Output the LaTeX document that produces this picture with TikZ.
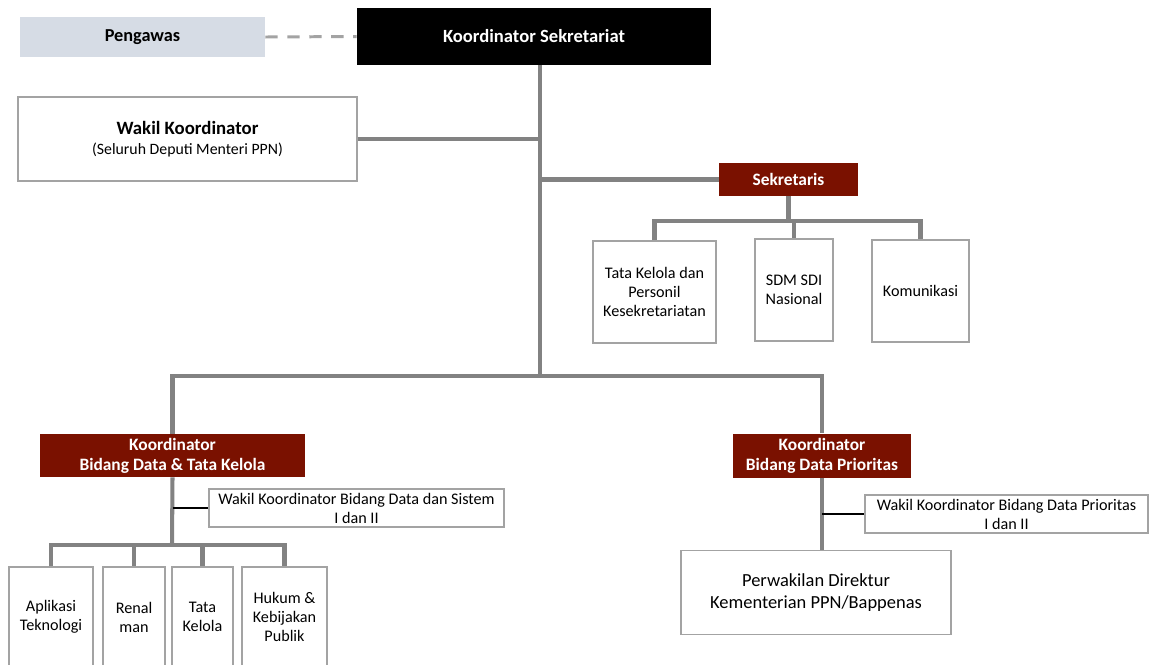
\documentclass[tikz,border=0pt]{standalone}
\usepackage{fontspec}
\setmainfont{Carlito}
\definecolor{darkred}{HTML}{7A1100}
\definecolor{linegray}{HTML}{828282}
\definecolor{framegray}{HTML}{A3A3A3}
\definecolor{paleblue}{HTML}{D6DCE5}
\tikzset{
  head/.style={fill=darkred, text=white, font=\fontsize{9.9}{11.3}\selectfont\bfseries, align=center, inner sep=0pt},
  unit/.style={draw=framegray, line width=0.7pt, fill=white, align=center, inner sep=0pt, font=\fontsize{9.2}{10.8}\selectfont},
  trunk/.style={draw=linegray, line width=2.3pt},
  link/.style={draw=black, line width=1.1pt}
}
\begin{document}
\begin{tikzpicture}[x=0.02cm, y=-0.02cm]
  \clip (0,0) rectangle (1149,664);
  \fill[white] (0,0) rectangle (1149,664);

  % Top level
  \coordinate (hub) at (540,376);
  \node[fill=paleblue, minimum width=4.9cm, minimum height=0.8cm, font=\fontsize{10.4}{12}\selectfont\bfseries] (peng) at (142.5,37) {Pengawas};
  \node[fill=black, text=white, minimum width=7.08cm, minimum height=1.14cm, font=\fontsize{10.6}{12}\selectfont\bfseries] (koord) at (534,36.5) {Koordinator Sekretariat};
  \node[unit, minimum width=6.78cm, minimum height=1.68cm, font=\fontsize{9}{11.3}\selectfont] (wakil) at (187.5,139)
    {{\fontsize{10.7}{11.3}\selectfont\bfseries Wakil Koordinator}\\(Seluruh Deputi Menteri PPN)};

  % Sekretaris
  \coordinate (sbar) at (790,221);
  \node[head, minimum width=2.78cm, minimum height=0.66cm] (sekr) at (788.5,179.5) {Sekretaris};
  \node[unit, minimum width=2.46cm, minimum height=2.04cm] (tata) at (654.5,292) {Tata Kelola dan\\Personil\\Kesekretariatan};
  \node[unit, minimum width=1.56cm, minimum height=2.04cm] (sdm) at (794,290) {SDM SDI\\Nasional};
  \node[unit, minimum width=1.94cm, minimum height=2.04cm] (komu) at (920.5,291) {Komunikasi};

  % Bidang Data & Tata Kelola
  \coordinate (dbar) at (172,545);
  \node[head, minimum width=5.3cm, minimum height=0.86cm] (bdtk) at (172.5,455.5) {Koordinator\\Bidang Data \& Tata Kelola};
  \node[unit, minimum width=5.9cm, minimum height=0.76cm] (wbds) at (356.5,508) {Wakil Koordinator Bidang Data dan Sistem\\I dan II};
  \node[unit, minimum width=1.68cm, minimum height=2cm] (apl) at (51,617) {Aplikasi\\Teknologi};
  \node[unit, minimum width=1.24cm, minimum height=2cm] (renal) at (134,617) {Renal\\man};
  \node[unit, minimum width=1.22cm, minimum height=2cm] (tk) at (202.5,617) {Tata\\Kelola};
  \node[unit, minimum width=1.7cm, minimum height=2cm] (hukum) at (284.5,617) {Hukum \&\\Kebijakan\\Publik};

  % Bidang Data Prioritas
  \node[head, minimum width=3.56cm, minimum height=0.88cm] (bdp) at (822,455.5) {Koordinator\\Bidang Data Prioritas};
  \node[unit, minimum width=5.66cm, minimum height=0.76cm] (wbdp) at (1006.5,514) {Wakil Koordinator Bidang Data Prioritas\\I dan II};
  \node[unit, minimum width=5.4cm, minimum height=1.68cm, font=\fontsize{10.5}{12.5}\selectfont] (perw) at (816,592.5) {Perwakilan Direktur\\Kementerian PPN/Bappenas};

  % Connectors
  \draw[draw=framegray, line width=1.7pt, dash pattern=on 7pt off 5.5pt] (peng.east) -- (koord.west);
  \draw[trunk] (koord.south -| hub) -- (hub);
  \draw[trunk] (wakil.east) -- (wakil.east -| hub);
  \draw[trunk] (sekr.west) -- (sekr.west -| hub);
  \draw[trunk] (bdtk.north) |- (hub) -| (bdp.north);
  \draw[trunk] (sekr.south) -- (sekr.south |- sbar);
  \draw[trunk] (tata.north) |- (komu.north |- sbar) -- (komu.north);
  \draw[trunk] (sdm.north |- sbar) -- (sdm.north);
  \draw[trunk] (bdtk.south) -- (dbar);
  \draw[trunk] (apl.north) |- (hukum.north |- dbar) -- (hukum.north);
  \draw[trunk] (renal.north |- dbar) -- (renal.north);
  \draw[trunk] (tk.north |- dbar) -- (tk.north);
  \draw[link] (bdtk.south |- wbds.west) -- (wbds.west);
  \draw[trunk] (bdp.south) -- (bdp.south |- perw.north);
  \draw[link] (bdp.south |- wbdp.west) -- (wbdp.west);
\end{tikzpicture}
\end{document}
